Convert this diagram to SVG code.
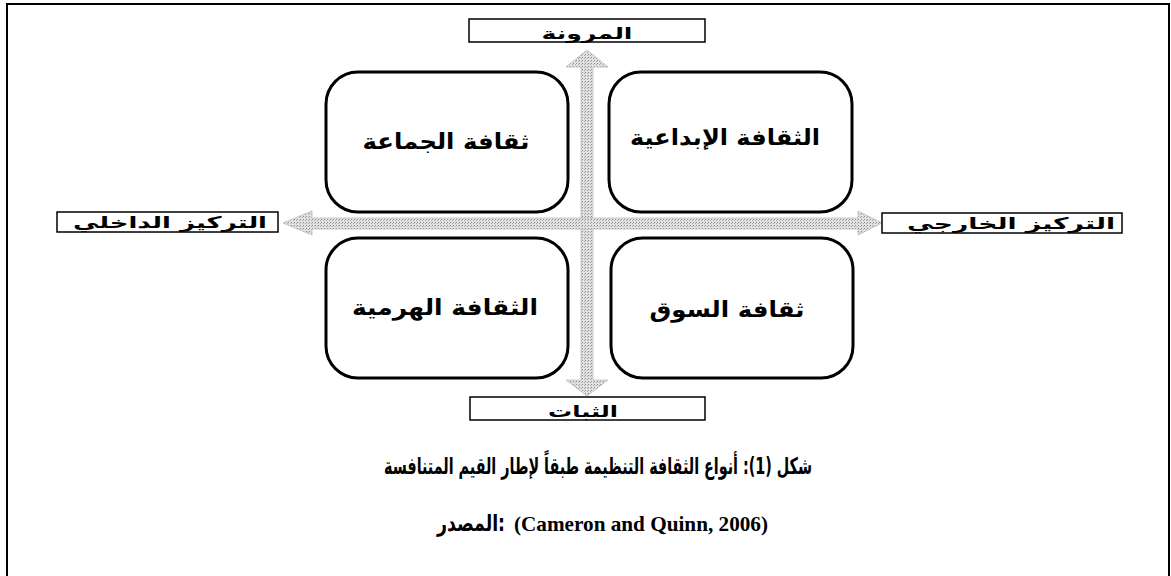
<svg xmlns="http://www.w3.org/2000/svg" width="1171" height="576" viewBox="0 0 1171 576">
<defs>
<pattern id="dots" width="3" height="3" patternUnits="userSpaceOnUse">
<rect width="3" height="3" fill="#e2e2e2"/>
<rect width="1" height="1" fill="#8a8a8a"/>
<rect x="2" y="1" width="1" height="1" fill="#a8a8a8"/>
</pattern>
</defs>
<style>
.box{fill:#fff;stroke:#000;stroke-width:3}
.lbl{fill:#fff;stroke:#000;stroke-width:1.5}
.ar{font-family:"DejaVu Sans",sans-serif;font-weight:bold;font-size:22px;fill:#000;text-anchor:middle;direction:rtl}
.sm{font-size:16px}
.arrow{fill:url(#dots);stroke:#bdbdbd;stroke-width:0.8}
.cap{font-family:"DejaVu Sans Condensed","DejaVu Sans",sans-serif;font-weight:bold;font-size:23px;fill:#000}
.en{font-family:"Liberation Serif",serif;font-weight:bold;font-size:22px;fill:#000}
</style>
<rect x="0" y="0" width="1171" height="576" fill="#fff"/>
<rect x="7" y="4" width="1162" height="620" fill="none" stroke="#000" stroke-width="2"/>
<g id="connectors">
<polygon class="arrow" points="587,50 608,67 593,67 593,380 608,380 587,396 566,380 581,380 581,67 566,67"/>
<polygon class="arrow" points="283,223 312,211 312,218 858,218 858,211 882,223 858,235 858,229 312,229 312,235"/>
</g>
<g id="q-clan"><rect class="box" x="326" y="72" width="242" height="140" rx="32"/><text class="ar" x="446" y="149" textLength="167" lengthAdjust="spacingAndGlyphs">ثقافة الجماعة</text></g>
<g id="q-adhocracy"><rect class="box" x="609" y="72" width="243" height="140" rx="32"/><text class="ar" x="725" y="145" textLength="190" lengthAdjust="spacingAndGlyphs">الثقافة الإبداعية</text></g>
<g id="q-hierarchy"><rect class="box" x="326" y="238" width="242" height="140" rx="32"/><text class="ar" x="445" y="315" textLength="186" lengthAdjust="spacingAndGlyphs">الثقافة الهرمية</text></g>
<g id="q-market"><rect class="box" x="611" y="238" width="242" height="140" rx="32"/><text class="ar" x="727" y="317" textLength="155" lengthAdjust="spacingAndGlyphs">ثقافة السوق</text></g>
<g id="l-top"><rect class="lbl" x="469" y="19" width="236" height="23"/><text class="ar sm" x="587" y="39" textLength="91" lengthAdjust="spacingAndGlyphs">المرونة</text></g>
<g id="l-bottom"><rect class="lbl" x="470" y="397" width="235" height="23"/><text class="ar sm" x="583" y="417" textLength="70" lengthAdjust="spacingAndGlyphs">الثبات</text></g>
<g id="l-left"><rect class="lbl" x="57" y="212" width="221" height="20"/><text class="ar sm" x="170" y="228" textLength="194" lengthAdjust="spacingAndGlyphs">التركيز الداخلي</text></g>
<g id="l-right"><rect class="lbl" x="882" y="213" width="240" height="20"/><text class="ar sm" x="1011" y="229" textLength="208" lengthAdjust="spacingAndGlyphs">التركيز الخارجي</text></g>
<g id="caption">
<text class="cap" x="598" y="474" text-anchor="middle" direction="rtl" textLength="428" lengthAdjust="spacingAndGlyphs">شكل (1): أنواع الثقافة التنظيمة طبقاً لإطار القيم المتنافسة</text>
<text class="cap" x="437" y="531" direction="ltr" textLength="68" lengthAdjust="spacingAndGlyphs">المصدر:</text>
<text class="en" x="514" y="531" textLength="254" lengthAdjust="spacingAndGlyphs">(Cameron and Quinn, 2006)</text>
</g>
</svg>
